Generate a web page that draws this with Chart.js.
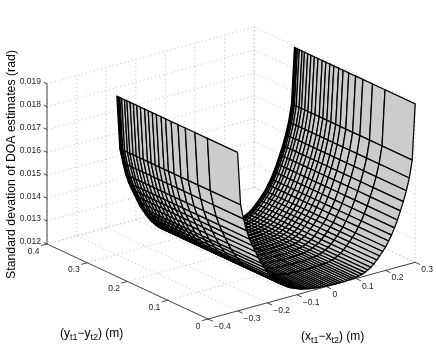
<!DOCTYPE html>
<html>
<head>
<meta charset="utf-8">
<style>
  html, body { margin: 0; padding: 0; background: #fff; }
  canvas { display: block; }
</style>
<script src="https://cdn.jsdelivr.net/npm/chart.js@4/dist/chart.umd.min.js"></script>
</head>
<body>
<canvas id="myChart" width="436" height="351"></canvas>
<script>
// surface grid
const xGrid = [-0.30, -0.29, -0.28, -0.27, -0.26, -0.25, -0.24, -0.23, -0.22, -0.21,
    -0.20, -0.19, -0.18, -0.17, -0.16, -0.15, -0.14, -0.13, -0.12, -0.11,
    -0.10, -0.09, -0.08, -0.07, -0.06, -0.05, -0.04, -0.03, -0.02, -0.01,
    0.00, 0.01, 0.02, 0.03, 0.04, 0.05, 0.06, 0.07, 0.08, 0.09,
    0.10, 0.11, 0.12, 0.13, 0.14, 0.15, 0.16, 0.17, 0.18, 0.19,
    0.20, 0.21, 0.22, 0.23, 0.24, 0.25, 0.26, 0.27, 0.28, 0.29, 0.30];
const yGrid = [0, 0.075, 0.106, 0.130, 0.148, 0.165, 0.179, 0.190, 0.202, 0.212, 0.222,
    0.231, 0.2415, 0.2505, 0.259, 0.267, 0.275, 0.281, 0.288, 0.2925, 0.2958, 0.2985, 0.30];
const zProfile = [0.01892, 0.01660, 0.01595, 0.01540, 0.01500, 0.01468, 0.01438, 0.01408, 0.01380, 0.01358,
    0.01336, 0.01317, 0.01300, 0.01285, 0.01272, 0.01262, 0.01252, 0.01244, 0.01237, 0.01232,
    0.01227, 0.01222, 0.01218, 0.01215, 0.01212, 0.01210, 0.01208, 0.01206, 0.01205, 0.01204,
    0.01203, 0.01202, 0.01202, 0.01201, 0.01201, 0.01201, 0.01201, 0.01202, 0.01203, 0.01204,
    0.01205, 0.01208, 0.01211, 0.01216, 0.01223, 0.01231, 0.01242, 0.01256, 0.01270, 0.01286,
    0.01302, 0.01325, 0.01347, 0.01375, 0.01406, 0.01442, 0.01479, 0.01523, 0.01575, 0.01650, 0.01892];

// axes
const xTicks = [-0.4, -0.3, -0.2, -0.1, 0, 0.1, 0.2, 0.3];
const xTickLabels = ['\u22120.4', '\u22120.3', '\u22120.2', '\u22120.1', '0', '0.1', '0.2', '0.3'];
const yTicks = [0, 0.1, 0.2, 0.3, 0.4];
const yTickLabels = ['0', '0.1', '0.2', '0.3', '0.4'];
const zTicks = [0.012, 0.013, 0.014, 0.015, 0.016, 0.017, 0.018, 0.019];
const zTickLabels = ['0.012', '0.013', '0.014', '0.015', '0.016', '0.017', '0.018', '0.019'];
const zTitle = 'Standard devation of DOA estimates (rad)';

const X0 = -0.4, X1 = 0.3, Y0 = 0, Y1 = 0.4, Z0 = 0.012, Z1 = 0.019;

// orthographic view: data units to the screen-sized scales of the chart
function project(x, y, z) {
    return {
        x: 208 + 296 * (x - X0) - 402.5 * y,
        y: 319 - 81 * (x - X0) - 187.5 * y - 22900 * (z - Z0)
    };
}

function line3d(a, b, color, dash, width) {
    return {
        data: [project(a[0], a[1], a[2]), project(b[0], b[1], b[2])],
        showLine: true, pointRadius: 0, fill: false,
        borderColor: color, borderWidth: width || 1, borderDash: dash || [],
        borderCapStyle: 'butt'
    };
}

const gridColor = '#bdbdbd', gridDash = [1, 3], axisColor = '#444';
const back = [];   // drawn first
const surface = [];

xTicks.forEach(function (x) {
    back.push(line3d([x, Y0, Z0], [x, Y1, Z0], gridColor, gridDash));
    back.push(line3d([x, Y1, Z0], [x, Y1, Z1], gridColor, gridDash));
});
yTicks.forEach(function (y) {
    back.push(line3d([X0, y, Z0], [X1, y, Z0], gridColor, gridDash));
    back.push(line3d([X1, y, Z0], [X1, y, Z1], gridColor, gridDash));
});
zTicks.forEach(function (z) {
    back.push(line3d([X0, Y1, z], [X1, Y1, z], gridColor, gridDash));
    back.push(line3d([X1, Y1, z], [X1, Y0, z], gridColor, gridDash));
});

back.push(line3d([X0, Y0, Z0], [X1, Y0, Z0], axisColor));
back.push(line3d([X0, Y0, Z0], [X0, Y1, Z0], axisColor));
back.push(line3d([X0, Y1, Z0], [X0, Y1, Z1], axisColor));
xTicks.forEach(function (x) {
    back.push(line3d([x, Y0, Z0], [x, Y0 - 0.012, Z0], axisColor));
});
yTicks.forEach(function (y) {
    back.push(line3d([X0, y, Z0], [X0 - 0.02, y, Z0], axisColor));
});
zTicks.forEach(function (z) {
    back.push(line3d([X0, Y1, z], [X0, Y1 + 0.008, z], axisColor));
});

// far cells first so the nearer ones hide them
for (let j = yGrid.length - 2; j >= 0; j--) {
    for (let i = xGrid.length - 2; i >= 0; i--) {
        const corners = [
            project(xGrid[i], yGrid[j], zProfile[i]),
            project(xGrid[i + 1], yGrid[j], zProfile[i + 1]),
            project(xGrid[i + 1], yGrid[j + 1], zProfile[i + 1]),
            project(xGrid[i], yGrid[j + 1], zProfile[i]),
            project(xGrid[i], yGrid[j], zProfile[i])
        ];
        surface.push({
            data: corners,
            showLine: true, pointRadius: 0, fill: 'shape',
            backgroundColor: '#cccccc', borderColor: '#000', borderWidth: 1.25,
            borderJoinStyle: 'miter'
        });
    }
}

// chart.js paints the first dataset last
const datasets = back.concat(surface).reverse();

function drawRuns(ctx, runs, x, y) {
    runs.forEach(function (r) {
        ctx.font = r[1] + 'px "Liberation Sans"';
        ctx.fillText(r[0], x, y + r[2]);
        x += ctx.measureText(r[0]).width;
    });
}

const labelsPlugin = {
    id: 'labels3d',
    afterDraw: function (chart) {
        const ctx = chart.ctx;
        ctx.save();
        ctx.fillStyle = '#222';
        ctx.textBaseline = 'middle';
        ctx.font = '8.5px "Liberation Sans"';

        ctx.textAlign = 'left';
        xTicks.forEach(function (x, i) {
            const p = project(x, Y0, Z0);
            ctx.fillText(xTickLabels[i], p.x + 6, p.y + 7.7);
        });
        ctx.textAlign = 'right';
        yTicks.forEach(function (y, i) {
            const p = project(X0, y, Z0);
            ctx.fillText(yTickLabels[i], p.x - 7.5, p.y + 7.3);
        });
        zTicks.forEach(function (z, i) {
            const p = project(X0, Y1, z);
            ctx.fillText(zTickLabels[i], p.x - 6, p.y - 2);
        });

        ctx.fillStyle = '#000';
        ctx.textAlign = 'left';
        ctx.textBaseline = 'alphabetic';
        drawRuns(ctx, [['(y', 12, 0], ['t1', 9, 3], ['\u2212y', 12, 0], ['t2', 9, 3], [') (m)', 12, 0]], 60, 337);
        drawRuns(ctx, [['(x', 12, 0], ['t1', 9, 3], ['\u2212x', 12, 0], ['t2', 9, 3], [') (m)', 12, 0]], 301, 340);

        ctx.translate(14.5, 164.5);
        ctx.rotate(-Math.PI / 2);
        ctx.textAlign = 'center';
        ctx.font = '12.3px "Liberation Sans"';
        ctx.fillText(zTitle, 0, 0);
        ctx.restore();
    }
};

new Chart(document.getElementById('myChart').getContext('2d'), {
    type: 'scatter',
    data: { datasets: datasets },
    plugins: [labelsPlugin],
    options: {
        responsive: false,
        animation: false,
        layout: { padding: 0 },
        plugins: { legend: { display: false }, title: { display: false }, tooltip: { enabled: false } },
        elements: { line: { tension: 0 } },
        scales: {
            x: { type: 'linear', min: 0, max: 436, display: false },
            y: { type: 'linear', min: 0, max: 351, reverse: true, display: false }
        }
    }
});
</script>
</body>
</html>
